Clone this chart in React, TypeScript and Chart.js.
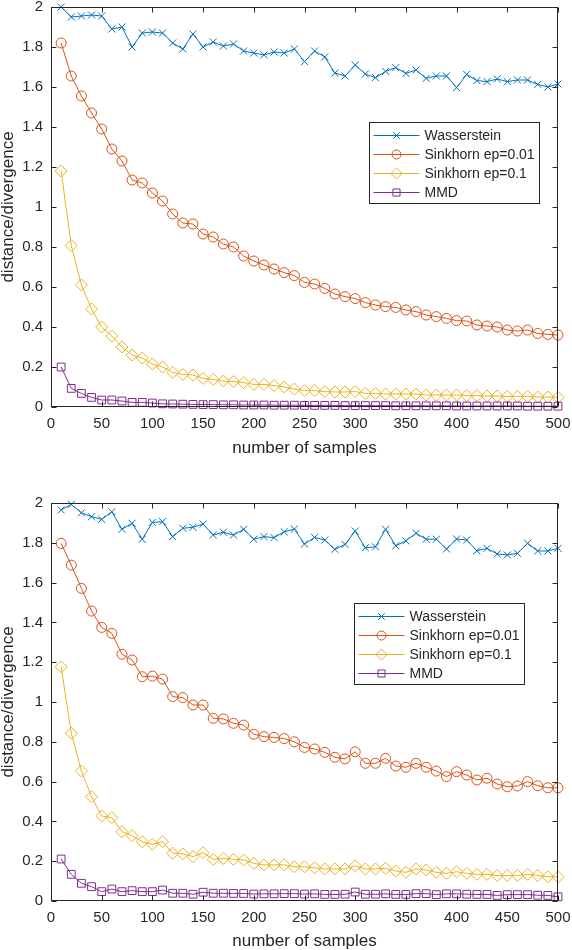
import { useEffect, useRef } from 'react';
import { Chart, registerables } from 'chart.js';

Chart.register(...registerables);

const FONT = '"Liberation Sans", Arial, Helvetica, sans-serif';
const INK = '#262626';

const samples = [
  10, 20, 30, 40, 50, 60, 70, 80, 90, 100,
  110, 120, 130, 140, 150, 160, 170, 180, 190, 200,
  210, 220, 230, 240, 250, 260, 270, 280, 290, 300,
  310, 320, 330, 340, 350, 360, 370, 380, 390, 400,
  410, 420, 430, 440, 450, 460, 470, 480, 490, 500,
];
const xTicks = [0, 50, 100, 150, 200, 250, 300, 350, 400, 450, 500];
const yTicks = [0, 0.2, 0.4, 0.6, 0.8, 1, 1.2, 1.4, 1.6, 1.8, 2];

const seriesNames = ['Wasserstein', 'Sinkhorn ep=0.01', 'Sinkhorn ep=0.1', 'MMD'];
const seriesColors = ['#0072BD', '#D95319', '#EDB120', '#7E2F8E'];
const markers = ['crossRot', 'circle', 'rectRot', 'rect'];
const markerRadius = [5, 5, 6, 5.5];

// upper panel
const wassTop = [
  2.0, 1.95, 1.955, 1.96, 1.955, 1.89, 1.9, 1.8, 1.87, 1.875,
  1.87, 1.82, 1.79, 1.865, 1.8, 1.825, 1.805, 1.815, 1.78, 1.77,
  1.76, 1.775, 1.77, 1.79, 1.727, 1.78, 1.75, 1.67, 1.655, 1.71,
  1.665, 1.647, 1.678, 1.697, 1.668, 1.685, 1.643, 1.655, 1.655, 1.597,
  1.663, 1.632, 1.627, 1.64, 1.627, 1.635, 1.635, 1.613, 1.6, 1.615,
];
const sink01Top = [
  1.82, 1.655, 1.555, 1.47, 1.39, 1.29, 1.23, 1.135, 1.12, 1.07,
  1.03, 0.965, 0.92, 0.915, 0.865, 0.85, 0.815, 0.8, 0.755, 0.73,
  0.71, 0.69, 0.672, 0.657, 0.623, 0.615, 0.593, 0.565, 0.552, 0.542,
  0.522, 0.51, 0.502, 0.498, 0.485, 0.477, 0.46, 0.452, 0.443, 0.432,
  0.43, 0.41, 0.405, 0.4, 0.385, 0.38, 0.385, 0.368, 0.363, 0.36,
];
const sink1Top = [
  1.18, 0.807, 0.61, 0.49, 0.4, 0.355, 0.3, 0.26, 0.245, 0.215,
  0.2, 0.173, 0.163, 0.16, 0.143, 0.138, 0.13, 0.127, 0.122, 0.113,
  0.113, 0.107, 0.1, 0.09, 0.082, 0.082, 0.077, 0.075, 0.075, 0.077,
  0.068, 0.068, 0.065, 0.065, 0.065, 0.065, 0.06, 0.06, 0.06, 0.06,
  0.057, 0.057, 0.055, 0.055, 0.053, 0.053, 0.053, 0.05, 0.05, 0.048,
];
const mmdTop = [
  0.2, 0.093, 0.068, 0.048, 0.035, 0.035, 0.03, 0.023, 0.023, 0.02,
  0.016, 0.015, 0.014, 0.013, 0.012, 0.012, 0.011, 0.011, 0.01, 0.01,
  0.01, 0.009, 0.009, 0.009, 0.008, 0.008, 0.008, 0.008, 0.007, 0.007,
  0.007, 0.007, 0.007, 0.006, 0.006, 0.006, 0.006, 0.006, 0.006, 0.005,
  0.005, 0.005, 0.005, 0.005, 0.005, 0.005, 0.004, 0.004, 0.004, 0.004,
];

// lower panel
const wassBottom = [
  1.965, 1.993, 1.951, 1.931, 1.918, 1.956, 1.868, 1.898, 1.818, 1.903,
  1.906, 1.831, 1.873, 1.878, 1.894, 1.839, 1.853, 1.839, 1.868, 1.818,
  1.831, 1.826, 1.855, 1.869, 1.794, 1.827, 1.814, 1.767, 1.792, 1.859,
  1.775, 1.78, 1.868, 1.785, 1.81, 1.848, 1.818, 1.818, 1.769, 1.819,
  1.814, 1.76, 1.772, 1.744, 1.739, 1.747, 1.797, 1.759, 1.759, 1.772,
];
const sink01Bottom = [
  1.797, 1.688, 1.571, 1.457, 1.375, 1.345, 1.24, 1.211, 1.127, 1.13,
  1.115, 1.027, 1.022, 0.985, 0.985, 0.918, 0.915, 0.893, 0.884, 0.838,
  0.826, 0.822, 0.816, 0.8, 0.772, 0.764, 0.747, 0.722, 0.714, 0.75,
  0.692, 0.692, 0.717, 0.678, 0.672, 0.692, 0.672, 0.653, 0.625, 0.65,
  0.633, 0.608, 0.617, 0.588, 0.574, 0.578, 0.6, 0.579, 0.569, 0.569,
];
const sink1Bottom = [
  1.177, 0.843, 0.653, 0.524, 0.427, 0.419, 0.348, 0.328, 0.298, 0.285,
  0.298, 0.24, 0.237, 0.223, 0.243, 0.209, 0.214, 0.209, 0.206, 0.189,
  0.181, 0.181, 0.182, 0.172, 0.172, 0.167, 0.161, 0.161, 0.161, 0.177,
  0.161, 0.161, 0.164, 0.151, 0.144, 0.161, 0.156, 0.144, 0.139, 0.147,
  0.139, 0.134, 0.134, 0.128, 0.128, 0.128, 0.134, 0.128, 0.122, 0.122,
];
const mmdBottom = [
  0.211, 0.134, 0.089, 0.072, 0.047, 0.06, 0.047, 0.052, 0.047, 0.047,
  0.055, 0.039, 0.039, 0.034, 0.044, 0.039, 0.039, 0.038, 0.038, 0.035,
  0.036, 0.036, 0.037, 0.037, 0.035, 0.036, 0.033, 0.033, 0.034, 0.045,
  0.034, 0.034, 0.036, 0.033, 0.033, 0.037, 0.037, 0.032, 0.036, 0.036,
  0.034, 0.033, 0.033, 0.028, 0.032, 0.032, 0.032, 0.029, 0.028, 0.021,
];

function drawMarker(ctx: CanvasRenderingContext2D, style: string, x: number, y: number, r: number) {
  ctx.beginPath();
  if (style === 'crossRot') {
    const d = r * Math.SQRT1_2;
    ctx.moveTo(x - d, y - d);
    ctx.lineTo(x + d, y + d);
    ctx.moveTo(x - d, y + d);
    ctx.lineTo(x + d, y - d);
  } else if (style === 'circle') {
    ctx.arc(x, y, r, 0, Math.PI * 2);
  } else if (style === 'rectRot') {
    ctx.moveTo(x, y - r);
    ctx.lineTo(x + r, y);
    ctx.lineTo(x, y + r);
    ctx.lineTo(x - r, y);
    ctx.closePath();
  } else {
    const s = r * Math.SQRT1_2;
    ctx.rect(x - s, y - s, 2 * s, 2 * s);
  }
  ctx.stroke();
}

type PanelProps = {
  series: number[][];
  top: number;
  padTop: number;
  xAxisHeight: number;
  titlePadBottom: number;
  legendRight: number;
  legendTop: number;
};

function Panel({ series, top, padTop, xAxisHeight, titlePadBottom, legendRight, legendTop }: PanelProps) {
  const canvasRef = useRef<HTMLCanvasElement>(null);
  const chartRef = useRef<Chart | null>(null);

  useEffect(() => {
    if (!canvasRef.current) return;
    if (chartRef.current) chartRef.current.destroy();

    // box, inward ticks and the legend, MATLAB style
    const framePlugin = {
      id: 'frame',
      afterDraw(chart: any) {
        const { ctx, chartArea: a, scales } = chart;
        const L = Math.round(a.left) + 0.5;
        const R = Math.round(a.right) - 0.5;
        const T = Math.round(a.top) + 0.5;
        const B = Math.round(a.bottom) - 0.5;
        ctx.save();
        ctx.strokeStyle = INK;
        ctx.lineWidth = 1;
        ctx.strokeRect(L, T, R - L, B - T);
        ctx.beginPath();
        xTicks.forEach((v) => {
          const px = Math.round(scales.x.getPixelForValue(v)) + 0.5;
          ctx.moveTo(px, B);
          ctx.lineTo(px, B - 5);
          ctx.moveTo(px, T);
          ctx.lineTo(px, T + 5);
        });
        yTicks.forEach((v) => {
          const py = Math.round(scales.y.getPixelForValue(v)) + 0.5;
          ctx.moveTo(L, py);
          ctx.lineTo(L + 5, py);
          ctx.moveTo(R, py);
          ctx.lineTo(R - 5, py);
        });
        ctx.stroke();

        const w = 170;
        const h = 81;
        const bx = Math.round(a.right - legendRight - w) + 0.5;
        const by = Math.round(a.top + legendTop) + 0.5;
        ctx.fillStyle = '#ffffff';
        ctx.fillRect(bx, by, w, h);
        ctx.strokeRect(bx, by, w, h);
        ctx.font = `14px ${FONT}`;
        ctx.textBaseline = 'middle';
        ctx.textAlign = 'left';
        seriesNames.forEach((name, i) => {
          const ry = by + 13 + i * 19;
          ctx.strokeStyle = seriesColors[i];
          ctx.beginPath();
          ctx.moveTo(bx + 4, ry);
          ctx.lineTo(bx + 50, ry);
          ctx.stroke();
          drawMarker(ctx, markers[i], bx + 27, ry, markerRadius[i] - 0.5);
          ctx.fillStyle = INK;
          ctx.fillText(name, bx + 55, ry + 1);
        });
        ctx.restore();
      },
    };

    chartRef.current = new Chart(canvasRef.current, {
      type: 'line',
      data: {
        datasets: series.map((vals, i) => ({
          label: seriesNames[i],
          data: samples.map((x, j) => ({ x, y: vals[j] })),
          borderColor: seriesColors[i],
          backgroundColor: 'rgba(0,0,0,0)',
          borderWidth: 1,
          tension: 0,
          pointStyle: markers[i] as any,
          pointRadius: markerRadius[i],
          pointBorderWidth: 1,
          pointBorderColor: seriesColors[i],
          pointBackgroundColor: 'rgba(0,0,0,0)',
          order: 3 - i,
          clip: false as any,
        })),
      },
      options: {
        animation: false,
        responsive: true,
        maintainAspectRatio: false,
        layout: { padding: { top: padTop, right: 14, left: 0, bottom: 0 } },
        plugins: {
          legend: { display: false },
          tooltip: { enabled: false },
        },
        scales: {
          x: {
            type: 'linear',
            min: 0,
            max: 500,
            afterBuildTicks: (s: any) => {
              s.ticks = xTicks.map((v) => ({ value: v }));
            },
            afterFit: (s: any) => {
              s.height = xAxisHeight;
              s.paddingLeft = 0;
              s.paddingRight = 0;
            },
            grid: { display: false, drawTicks: false },
            border: { display: false },
            ticks: {
              color: INK,
              font: { family: FONT, size: 15 },
              padding: 8,
              maxRotation: 0,
              autoSkip: false,
            },
            title: {
              display: true,
              text: 'number of samples',
              color: INK,
              font: { family: FONT, size: 17, lineHeight: 1 },
              padding: { top: 0, bottom: titlePadBottom },
            },
          },
          y: {
            min: 0,
            max: 2,
            afterBuildTicks: (s: any) => {
              s.ticks = yTicks.map((v) => ({ value: v }));
            },
            afterFit: (s: any) => {
              s.width = 51;
              s.paddingTop = 0;
              s.paddingBottom = 0;
            },
            grid: { display: false, drawTicks: false },
            border: { display: false },
            ticks: {
              color: INK,
              font: { family: FONT, size: 15 },
              padding: 8,
              callback: (v: any) => String(v),
            },
            title: {
              display: true,
              text: 'distance/divergence',
              color: INK,
              font: { family: FONT, size: 17, lineHeight: 1 },
              padding: 0,
            },
          },
        },
      },
      plugins: [framePlugin],
    });

    return () => {
      if (chartRef.current) {
        chartRef.current.destroy();
        chartRef.current = null;
      }
    };
  }, []);

  return (
    <div style={{ position: 'absolute', left: 0, top, width: 572, height: 475 }}>
      <canvas ref={canvasRef} />
    </div>
  );
}

export default function App() {
  return (
    <div
      style={{
        position: 'absolute',
        left: 0,
        top: 0,
        width: 572,
        height: 950,
        overflow: 'hidden',
        background: '#ffffff',
      }}
    >
      <Panel
        series={[wassTop, sink01Top, sink1Top, mmdTop]}
        top={0}
        padTop={7}
        xAxisHeight={68}
        titlePadBottom={18.5}
        legendRight={19}
        legendTop={115}
      />
      <Panel
        series={[wassBottom, sink01Bottom, sink1Bottom, mmdBottom]}
        top={475}
        padTop={28}
        xAxisHeight={49}
        titlePadBottom={0}
        legendRight={34}
        legendTop={100}
      />
    </div>
  );
}
